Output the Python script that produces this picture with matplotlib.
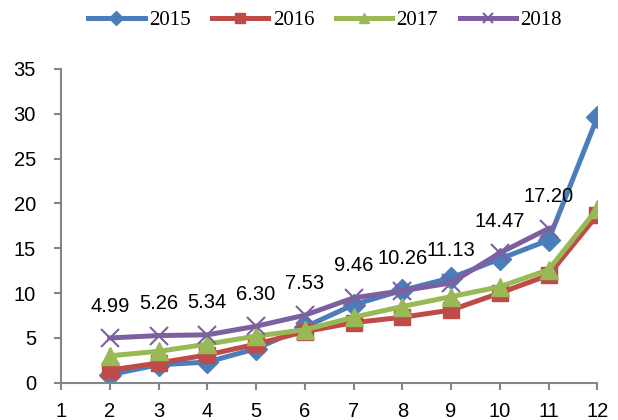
import matplotlib
matplotlib.use("Agg")
import matplotlib.pyplot as plt
import numpy as np

# valeurs par annee (mois 2 a 12)
mois = [2, 3, 4, 5, 6, 7, 8, 9, 10, 11, 12]
v2015 = [0.9, 2.0, 2.3, 3.8, 6.2, 8.7, 10.3, 11.7, 13.8, 15.9, 29.6]
v2016 = [1.4, 2.2, 3.1, 4.3, 5.7, 6.7, 7.3, 8.1, 10.0, 12.0, 18.7]
v2017 = [3.0, 3.5, 4.3, 5.2, 5.9, 7.3, 8.5, 9.6, 10.7, 12.6, 19.4]
mois_2018 = [2, 3, 4, 5, 6, 7, 8, 9, 10, 11]
v2018 = [4.99, 5.26, 5.34, 6.30, 7.53, 9.46, 10.26, 11.13, 14.47, 17.20]

gris = "#868686"

fig = plt.figure(figsize=(6.18, 4.2), dpi=100)
ax = fig.add_axes([0.0987, 0.0888, 0.8678, 0.7470])

lw = 3.6
ax.plot(mois, v2015, color="#4A7EBB", lw=lw, marker="D", ms=11.5, label="2015")
ax.plot(mois, v2016, color="#BE4B48", lw=lw, marker="s", ms=11.5, label="2016")
ax.plot(mois, v2017, color="#98B954", lw=lw, marker="^", ms=13, label="2017")
ax.plot(mois_2018, v2018, color="#7D60A0", lw=lw, marker="x", ms=13,
        mew=1.5, label="2018")

# etiquettes de la serie 2018
for x, y in zip(mois_2018, v2018):
    ax.annotate("%.2f" % y, (x, y), xytext=(0, 23), textcoords="offset points",
                ha="center", va="center", fontsize=14.5, family="Liberation Sans")

ax.set_xlim(1, 12)
ax.set_ylim(0, 35)
ax.set_xticks(range(1, 13))
ax.set_yticks(range(0, 36, 5))

for s in ["top", "right"]:
    ax.spines[s].set_visible(False)
for s in ["left", "bottom"]:
    ax.spines[s].set_color(gris)
    ax.spines[s].set_linewidth(1.5)
ax.tick_params(color=gris, width=1.5, length=5, labelsize=14.5)
for lab in ax.get_xticklabels() + ax.get_yticklabels():
    lab.set_family("Liberation Sans")
ax.xaxis.set_tick_params(pad=9)
ax.yaxis.set_tick_params(pad=13)

leg = fig.legend(loc="center", bbox_to_anchor=(0.526, 0.951), ncol=4,
                 frameon=False, handlelength=2.7, handletextpad=0.2,
                 columnspacing=1.05, markerscale=0.6,
                 prop={"family": "Liberation Serif", "size": 15})

fig.savefig("out.png", dpi=100)
